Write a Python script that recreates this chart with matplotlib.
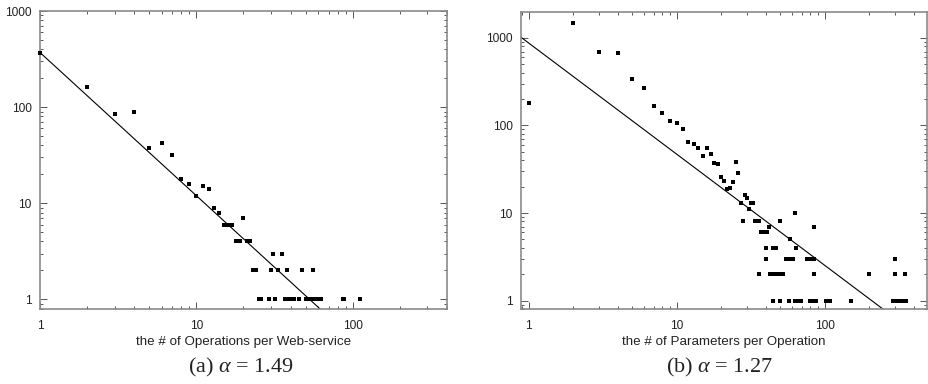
import numpy as np
import matplotlib
matplotlib.use("Agg")
import matplotlib.pyplot as plt
from matplotlib.ticker import LogLocator, FixedLocator, NullFormatter

# ---------------- data ----------------
# (a) operations per web-service
a_x = [1, 2, 3, 4, 5, 6, 7, 8, 9, 10, 11, 12, 13, 14, 15, 16, 17, 20,
       18, 19, 21, 22,
       31, 35,
       23, 24, 30, 33, 38, 47, 56,
       25, 26, 29, 32, 37, 38, 40, 42, 45, 50, 52, 55, 57, 59, 61, 63, 86, 88, 111]
a_y = [370, 163, 85, 89, 38, 42.7, 31.8, 17.7, 16, 11.9, 15, 14, 9, 8, 6, 6, 6, 7,
       4, 4, 4, 4,
       3, 3,
       2, 2, 2, 2, 2, 2, 2,
       1, 1, 1, 1, 1, 1, 1, 1, 1, 1, 1, 1, 1, 1, 1, 1, 1, 1, 1]
a_alpha = 1.49
a_coef = 370

# (b) parameters per operation
b_x = [1, 2, 3, 4, 5, 6, 7, 8, 9, 10, 11, 12, 13, 14, 15, 16, 17, 18, 19, 20,
       21, 22, 23, 24, 25, 26, 27, 29, 30, 31, 32, 33,
       28, 34, 35, 36, 50,
       42, 85,
       63,
       37, 38, 39, 41,
       58,
       40, 45, 47, 64,
       40, 55, 58, 61, 76, 80, 84, 300,
       36, 43, 45, 47, 49, 52, 85, 200, 300, 350,
       45, 50, 57, 63, 66, 69, 80, 84, 88, 102, 108, 150, 290, 305, 320, 340, 355]
b_y = [180, 1480, 700, 670, 340, 265, 168, 138, 113, 107, 90, 65, 61, 55, 45, 56, 47, 37.5, 36.5, 25.5,
       23.5, 19, 19.5, 22.5, 38, 29, 13, 16, 15, 11, 13, 13,
       8, 8, 8, 8, 8,
       7, 7,
       10,
       6, 6, 6, 6,
       5,
       4, 4, 4, 4,
       3, 3, 3, 3, 3, 3, 3, 3,
       2, 2, 2, 2, 2, 2, 2, 2, 2, 2,
       1, 1, 1, 1, 1, 1, 1, 1, 1, 1, 1, 1, 1, 1, 1, 1, 1]
b_alpha = 1.27
b_coef = 875

a_xticks = [1, 10, 100]
a_yticks = [1, 10, 100, 1000]
b_xticks = [1, 10, 100]
b_yticks = [1, 10, 100, 1000]

a_xlabel = "the # of Operations per Web-service"
b_xlabel = "the # of Parameters per Operation"
a_caption = r"(a) $\alpha$ = 1.49"
b_caption = r"(b) $\alpha$ = 1.27"

# ---------------- drawing ----------------
plt.rcParams['font.family'] = ['Liberation Sans', 'DejaVu Sans']
plt.rcParams['mathtext.fontset'] = 'custom'
plt.rcParams['mathtext.it'] = 'Liberation Serif:italic'
plt.rcParams['mathtext.rm'] = 'Liberation Serif'

W, H = 929, 384
fig = plt.figure(figsize=(W / 100, H / 100), dpi=100)

def px_axes(l, t, r, b):
    return fig.add_axes([l / W, 1 - b / H, (r - l) / W, (b - t) / H])

def style(ax, xlim, ylim, xt, yt):
    ax.set_xscale('log')
    ax.set_yscale('log')
    ax.set_xlim(*xlim)
    ax.set_ylim(*ylim)
    ax.xaxis.set_major_locator(FixedLocator(xt))
    ax.yaxis.set_major_locator(FixedLocator(yt))
    ax.set_xticklabels([str(t) for t in xt])
    ax.set_yticklabels([str(t) for t in yt])
    ax.xaxis.set_minor_locator(LogLocator(base=10, subs=np.arange(2, 10)))
    ax.yaxis.set_minor_locator(LogLocator(base=10, subs=np.arange(2, 10)))
    ax.xaxis.set_minor_formatter(NullFormatter())
    ax.yaxis.set_minor_formatter(NullFormatter())
    ax.tick_params(which='both', direction='in', top=True, right=True,
                   color='#555555', width=0.7, labelsize=8.6, labelcolor='#222222')
    ax.tick_params(which='major', length=5)
    ax.tick_params(axis='y', which='major', pad=6)
    ax.tick_params(axis='x', which='major', pad=8)
    ax.tick_params(which='minor', length=2.5)
    for s in ax.spines.values():
        s.set_color('#8a8a8a')
        s.set_linewidth(1.2)

def panel(ax, xs, ys, coef, alpha, xlim):
    ax.plot(xs, ys, ls='none', marker='s', ms=3.4, mew=0, color='black', clip_on=False, zorder=3)
    lx = np.array(xlim)
    ax.plot(lx, coef * lx ** (-alpha), color='black', lw=0.8, zorder=2)

axA = px_axes(40, 11, 447, 309)
xlimA = (1.0, 400)
panel(axA, a_x, a_y, a_coef, a_alpha, xlimA)
style(axA, xlimA, (0.794, 1000), a_xticks, a_yticks)

axB = px_axes(521, 12, 927, 309)
xlimB = (0.887, 491)
panel(axB, b_x, b_y, b_coef, b_alpha, xlimB)
style(axB, xlimB, (0.8, 1980), b_xticks, b_yticks)

fig.text(243.5 / W, 1 - 342 / H, a_xlabel, ha='center', va='center', fontsize=9.6, color='#222222')
fig.text(724 / W, 1 - 342 / H, b_xlabel, ha='center', va='center', fontsize=9.6, color='#222222')
fig.text(240.5 / W, 1 - 367 / H, a_caption, ha='center', va='center', fontsize=16,
         family='Liberation Serif', color='#222222')
fig.text(720 / W, 1 - 367 / H, b_caption, ha='center', va='center', fontsize=16,
         family='Liberation Serif', color='#222222')

fig.savefig('out.png', dpi=100, facecolor='white')
